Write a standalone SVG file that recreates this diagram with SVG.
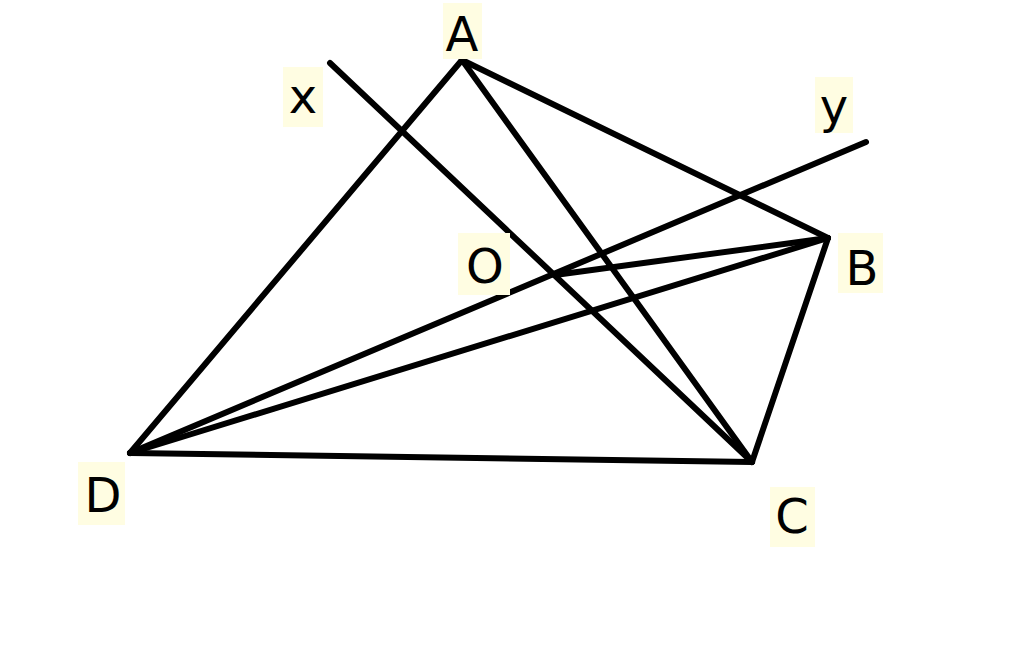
<svg xmlns="http://www.w3.org/2000/svg" width="1024" height="645" viewBox="0 0 1024 645">
<style>
.bg{fill:#fffde2}
.lbl{font-family:"DejaVu Sans",sans-serif;font-size:48px;fill:#000;text-anchor:middle}
.ln{stroke:#000;stroke-width:6;stroke-linecap:round;fill:none}
</style>
<rect width="1024" height="645" fill="#fff"/>
<g id="connectors">
<line class="ln" x1="462" y1="60" x2="130" y2="453"/>
<line class="ln" x1="462" y1="60" x2="828" y2="238"/>
<line class="ln" x1="462" y1="60" x2="752" y2="462"/>
<line class="ln" x1="330" y1="63" x2="752" y2="462"/>
<line class="ln" x1="866" y1="142" x2="130" y2="453"/>
<line class="ln" x1="130" y1="453" x2="828" y2="238"/>
<line class="ln" x1="555" y1="275" x2="828" y2="238"/>
<line class="ln" x1="828" y1="238" x2="752" y2="462"/>
<line class="ln" x1="130" y1="453" x2="752" y2="462"/>
</g>
<g id="A"><rect class="bg" x="443" y="3" width="39" height="56"/><text class="lbl" x="462" y="51">A</text></g>
<g id="x"><rect class="bg" x="283" y="67" width="40" height="60"/><text class="lbl" x="303" y="113">x</text></g>
<g id="y"><rect class="bg" x="815" y="77" width="38" height="56"/><text class="lbl" x="834" y="123">y</text></g>
<g id="O"><rect class="bg" x="458" y="233" width="52" height="62"/><text class="lbl" x="485" y="283">O</text></g>
<g id="B"><rect class="bg" x="838" y="233" width="45" height="60"/><text class="lbl" x="862" y="285">B</text></g>
<g id="D"><rect class="bg" x="78" y="462" width="47" height="63"/><text class="lbl" x="103" y="512">D</text></g>
<g id="C"><rect class="bg" x="770" y="487" width="45" height="60"/><text class="lbl" x="792" y="533">C</text></g>
</svg>
